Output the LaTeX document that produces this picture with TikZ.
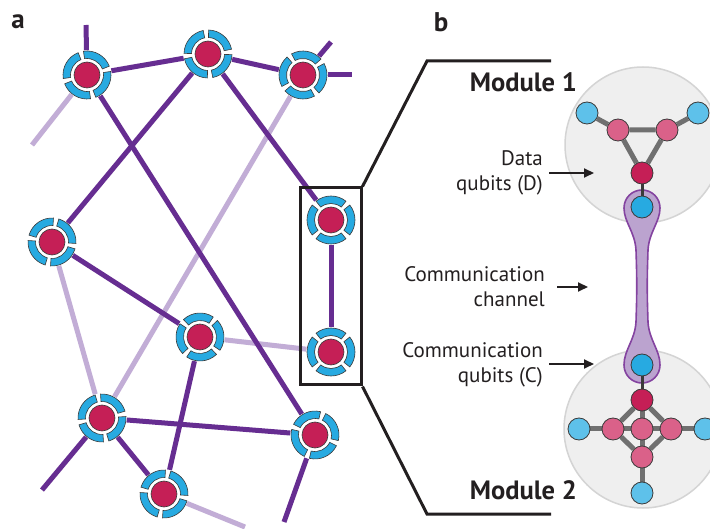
\documentclass[tikz,border=0pt]{standalone}
\usepackage{fontspec}
\setmainfont{PT Sans}
\usetikzlibrary{arrows.meta}
\definecolor{dpur}{HTML}{662D91}
\definecolor{lpur}{HTML}{C2ADD6}
\definecolor{ringblue}{HTML}{27AAE1}
\definecolor{qred}{HTML}{C51F56}
\definecolor{lblue}{HTML}{5EC1EA}
\definecolor{qpink}{HTML}{DA6189}
\definecolor{egray}{HTML}{707070}
\definecolor{modbg}{HTML}{EFEFEF}
\definecolor{modline}{HTML}{D4D4D4}
\definecolor{chfill}{HTML}{BBA3CF}
\definecolor{chline}{HTML}{8443A0}
\definecolor{outl}{HTML}{3A3A3A}
\definecolor{txt}{HTML}{231F20}
\tikzset{
  hub/.style={circle, minimum size=49pt, inner sep=0pt},
  strong/.style={dpur, line width=5pt},
  weak/.style={lpur, line width=5pt},
  gedge/.style={egray, line width=5pt},
  cedge/.style={outl, line width=3pt},
  qb/.style={circle, minimum size=22pt, inner sep=0pt, draw=outl, line width=0.8pt},
  dq/.style={qb, fill=lblue},
  pq/.style={qb, fill=qpink},
  rq/.style={qb, fill=qred},
  cq/.style={qb, fill=ringblue},
  lab/.style={text=txt, font=\fontsize{21}{25}\selectfont, align=right, inner sep=0pt},
  modt/.style={text=txt, font=\fontsize{26.5}{28}\selectfont\bfseries, inner sep=0pt},
  panel/.style={text=txt, font=\fontsize{27}{28}\selectfont\bfseries, inner sep=0pt},
  arr/.style={txt, line width=2pt, -{Triangle[length=10pt,width=9pt]}},
  bracket/.style={txt, line width=3pt},
  pics/ringq/.style={code={
    \fill[white] (0,0) circle[radius=24.5];
    \foreach \k in {0,1,2,3}{
      \pgfmathsetmacro\sa{#1+\k*90+6.5}
      \pgfmathsetmacro\ea{#1+(\k+1)*90-6.5}
      \filldraw[fill=ringblue, draw=outl, line width=0.6pt]
        (\sa:24) arc[start angle=\sa, end angle=\ea, radius=24]
        -- (\ea:16.5) arc[start angle=\ea, end angle=\sa, radius=16.5] -- cycle;
    }
    \filldraw[fill=qred, draw=outl, line width=0.6pt] (0,0) circle[radius=13];
  }}
}
\pgfdeclarelayer{back}
\pgfdeclarelayer{mid}
\pgfsetlayers{back,mid,main}
\begin{document}
\begin{tikzpicture}[x=1pt,y=-1pt]
\useasboundingbox (0,0) rectangle (710,529);

% ---------- panel a: network ----------
\node[hub] (n1) at (87,75) {};
\node[hub] (n2) at (208,54) {};
\node[hub] (n3) at (303,75) {};
\node[hub] (n4) at (52,242) {};
\node[hub] (n5) at (200,337) {};
\node[hub] (n6) at (331,220) {};
\node[hub] (n7) at (331,352) {};
\node[hub] (n8) at (102,418) {};
\node[hub] (n9) at (164,494) {};
\node[hub] (n10) at (315,435) {};

\coordinate (s1) at (86,25);
\coordinate (s2) at (32,145);
\coordinate (s3) at (331,42);
\coordinate (s4) at (352,75);
\coordinate (s5) at (42,490);
\coordinate (s6) at (245,527);
\coordinate (s7) at (284,522);

\draw[weak] (n1) -- (s2);
\draw[weak] (n3) -- (n8);
\draw[weak] (n4) -- (n8);
\draw[weak] (n5) -- (n7);
\draw[weak] (n9) -- (s6);

\draw[strong] (n1) -- (s1);
\draw[strong] (n1) -- (n2);
\draw[strong] (n2) -- (n3);
\draw[strong] (n3) -- (s3);
\draw[strong] (n3) -- (s4);
\draw[strong] (n1) -- (n10);
\draw[strong] (n2) -- (n4);
\draw[strong] (n2) -- (n6);
\draw[strong] (n4) -- (n5);
\draw[strong] (n5) -- (n9);
\draw[strong] (n6) -- (n7);
\draw[strong] (n8) -- (n10);
\draw[strong] (n8) -- (n9);
\draw[strong] (n8) -- (s5);
\draw[strong] (n10) -- (s7);

\pic at (n1) {ringq=75};
\pic at (n2) {ringq=85};
\pic at (n3) {ringq=55};
\pic at (n4) {ringq=100};
\pic at (n5) {ringq=130};
\pic at (n6) {ringq=45};
\pic at (n7) {ringq=45};
\pic at (n8) {ringq=80};
\pic at (n9) {ringq=100};
\pic at (n10) {ringq=110};

% highlight box and bracket
\node[draw=txt, line width=3pt, minimum width=61pt, minimum height=197pt, inner sep=0pt] (box) at (330.5,286.5) {};
\coordinate (bt1) at (427,61);
\coordinate (bt2) at (551,61);
\coordinate (bb1) at (427,514);
\coordinate (bb2) at (551,514);
\draw[bracket] (box.north east) -- (bt1) -- (bt2);
\draw[bracket] (box.south east) -- (bb1) -- (bb2);

% ---------- panel b: modules ----------
\begin{pgfonlayer}{back}
  \fill[white] (0,0) rectangle (710,529);
  \filldraw[fill=modbg, draw=modline, line width=1.5pt] (643,145) circle[radius=78];
  \filldraw[fill=modbg, draw=modline, line width=1.5pt] (643,429) circle[radius=79];
  \filldraw[fill=chfill, draw=chline, line width=1.6pt]
    (642,190) .. controls (652,190) and (660,198) .. (660,208)
    .. controls (660,222) and (649,232) .. (648,250)
    .. controls (647,280) and (647,292) .. (648,322)
    .. controls (649,340) and (660,350) .. (660,365)
    .. controls (660,375) and (652,383) .. (642,383)
    .. controls (632,383) and (624,375) .. (624,365)
    .. controls (624,350) and (635,340) .. (636,322)
    .. controls (637,292) and (637,280) .. (636,250)
    .. controls (635,232) and (624,222) .. (624,208)
    .. controls (624,198) and (632,190) .. (642,190) -- cycle;
\end{pgfonlayer}

% module 1
\node[dq] (a1) at (587,113) {};
\node[pq] (a2) at (618,130) {};
\node[pq] (a3) at (667,130) {};
\node[dq] (a4) at (698,113) {};
\node[rq] (a5) at (642,173) {};
\node[cq] (a6) at (642,207) {};
% module 2
\node[cq] (b1) at (642,365) {};
\node[rq] (b2) at (642,400) {};
\node[pq] (b3) at (613,429) {};
\node[pq] (b4) at (642,429) {};
\node[pq] (b5) at (671,429) {};
\node[pq] (b6) at (642,457) {};
\node[dq] (b7) at (579,429) {};
\node[dq] (b8) at (705,429) {};
\node[dq] (b9) at (642,493) {};

\begin{pgfonlayer}{mid}
  \draw[gedge] (a1) -- (a2) -- (a3) -- (a4);
  \draw[gedge] (a2) -- (a5) -- (a3);
  \draw[cedge] (a5) -- (a6);
  \draw[cedge] (b1) -- (b2);
  \draw[gedge] (b3) -- (b2) -- (b5) -- (b6) -- (b3);
  \draw[gedge] (b7) -- (b3) -- (b4) -- (b5) -- (b8);
  \draw[gedge] (b2) -- (b4) -- (b6) -- (b9);
\end{pgfonlayer}

% labels
\node[panel] (pa) at (18,22) {a};
\node[panel] (pb) at (441,22) {b};
\node[modt, anchor=east] (m1t) at (577,82) {Module 1};
\node[modt, anchor=east] (m2t) at (577,490) {Module 2};
\node[lab, anchor=east] (dtxt) at (543,173) {Data\\qubits (D)};
\node[lab, anchor=east] (chtxt) at (545,287) {Communication\\channel};
\node[lab, anchor=east] (cqtxt) at (543,365) {Communication\\qubits (C)};
\coordinate (da1) at (549,173);
\coordinate (da2) at (594,173);
\coordinate (ca1) at (557,287);
\coordinate (ca2) at (588,287);
\coordinate (qa1) at (549,364);
\coordinate (qa2) at (594,364);
\draw[arr] (da1) -- (da2);
\draw[arr] (ca1) -- (ca2);
\draw[arr] (qa1) -- (qa2);
\end{tikzpicture}
\end{document}
